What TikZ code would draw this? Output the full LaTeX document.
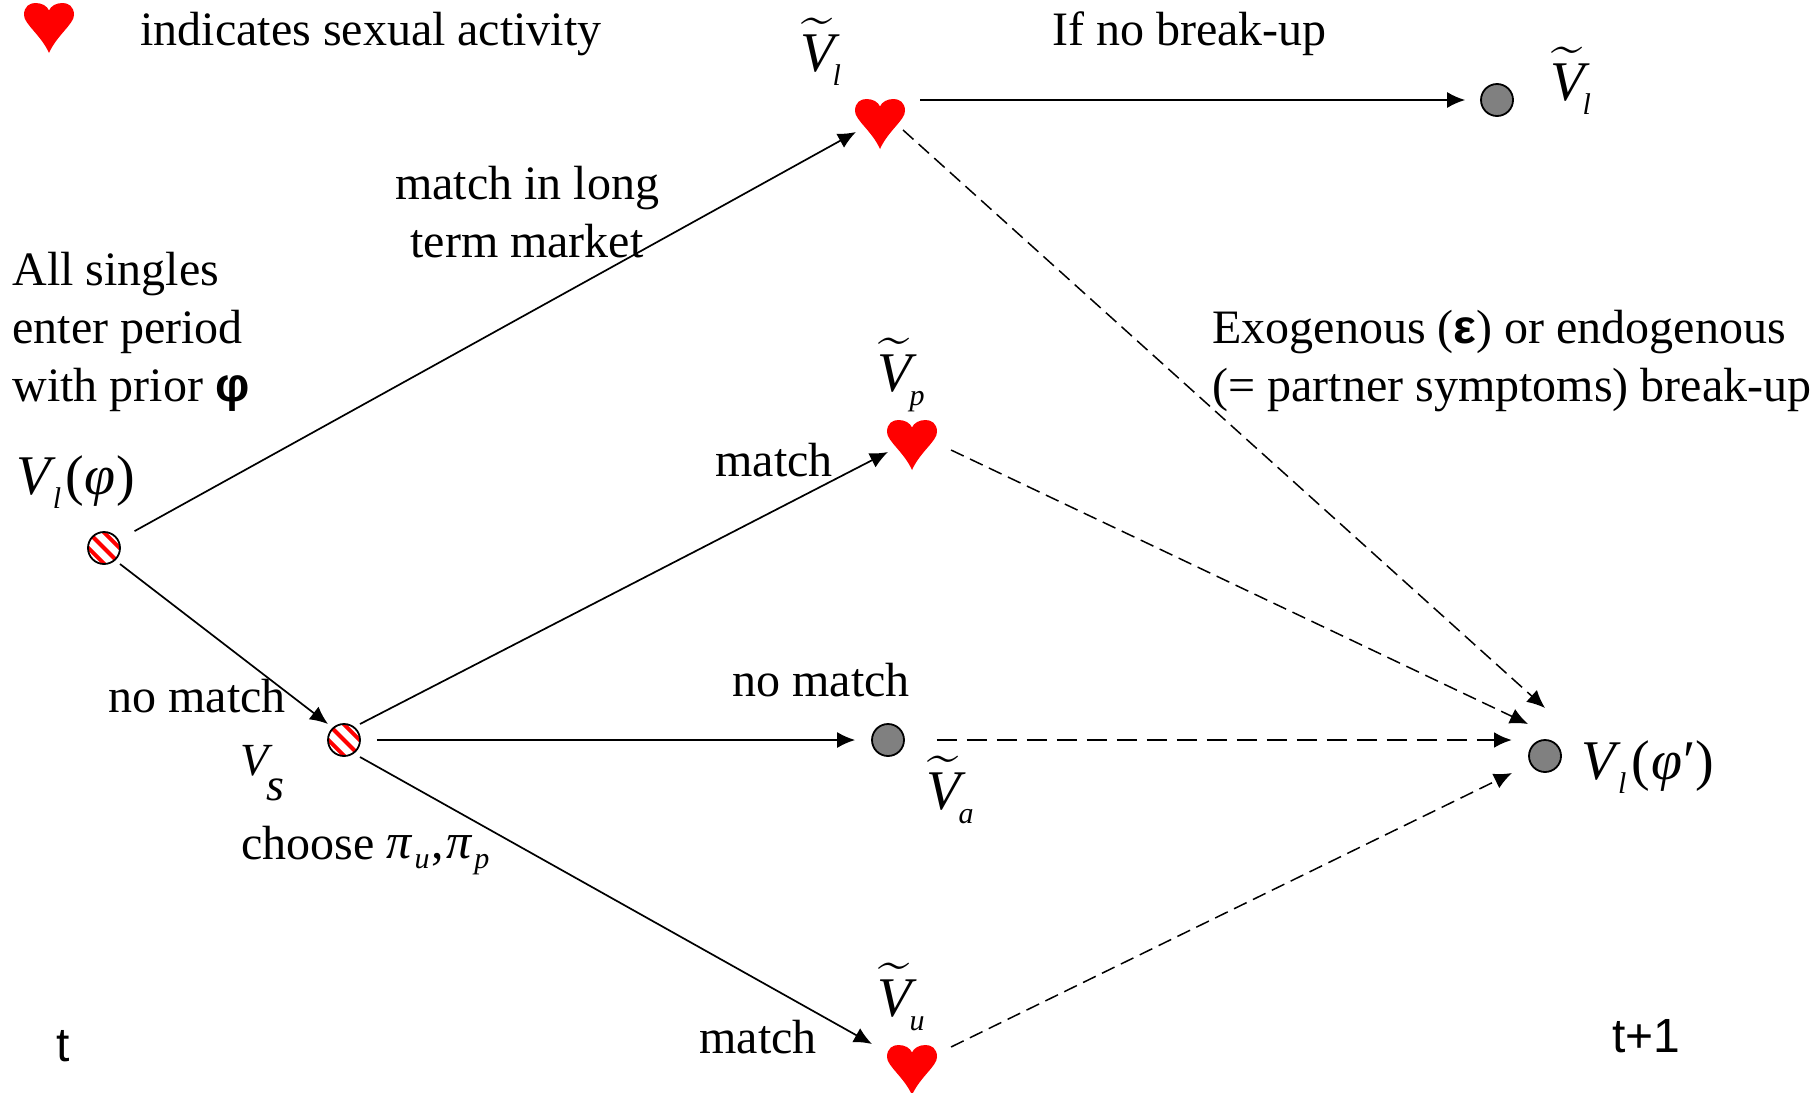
\documentclass[tikz,border=0pt]{standalone}
\usepackage{amsmath}
\usepackage{amssymb}
\usepackage{xcolor}
\usepackage{fontspec}
\setmainfont{Liberation Serif}
\newfontfamily\sansfont{Liberation Sans}
\usepackage{tikz}
\usetikzlibrary{arrows.meta}

\newcommand{\Vsym}[1]{\fontsize{28}{30}\selectfont\textit{V}\kern-1.5pt\raisebox{-7pt}{\fontsize{15}{15}\selectfont\textit{#1}}}
\newcommand{\Vtilde}[1]{\fontsize{28}{30}\selectfont$\widetilde{\textit{V}}$\kern-1pt\raisebox{-7pt}{\fontsize{15}{15}\selectfont\textit{#1}}}
\newcommand{\subpi}[1]{\textit{π}\kern1pt\raisebox{-5pt}{\fontsize{15}{15}\selectfont\textit{#1}}}

\tikzset{
  word/.style={anchor=base west, inner sep=0pt, font=\fontsize{24}{29}\selectfont},
  value/.style={anchor=base west, inner sep=0pt},
  arrowline/.style={-{Latex[length=9pt,width=8pt]}, line width=0.85pt},
  dashline/.style={arrowline, dash pattern=on 7pt off 3.5pt, line width=0.75pt},
  graydot/.style={circle, draw, line width=0.9pt, fill=gray, minimum size=16pt, inner sep=0pt},
  stripedot/.style={circle, draw, line width=0.9pt, fill=white, minimum size=16pt, inner sep=0pt,
    path picture={
      \foreach \off in {-7.8,0,7.8}
        \draw[red, line width=2pt]
          ([shift={(-9pt,\off*1pt+9pt)}]path picture bounding box.center) --
          ([shift={(9pt,\off*1pt-9pt)}]path picture bounding box.center);
    }},
  heartnode/.style={rectangle, minimum size=25pt, inner sep=0pt,
    path picture={
      \fill[red, shift={(path picture bounding box.center)}, x=1pt, y=1pt]
        (0,-12.5) .. controls (-4,-3.5) and (-12.5,2) .. (-12.5,6.5)
        .. controls (-12.5,11) and (-9.5,12.5) .. (-6.8,12.5)
        .. controls (-3.5,12.5) and (-1,11) .. (0,8.8)
        .. controls (1,11) and (3.5,12.5) .. (6.8,12.5)
        .. controls (9.5,12.5) and (12.5,11) .. (12.5,6.5)
        .. controls (12.5,2) and (4,-3.5) .. (0,-12.5) -- cycle;
    }}
}

\begin{document}
\begin{tikzpicture}[x=0.5pt, y=-0.5pt]
  \useasboundingbox (0,0) rectangle (1818,1092);

  % the decision points
  \node[stripedot] (single) at (104,548) {};
  \node[stripedot] (search) at (344,740) {};
  \node[heartnode] (heartl) at (880,124) {};
  \node[heartnode] (heartp) at (912,445) {};
  \node[heartnode] (heartu) at (912,1070) {};
  \node[heartnode] (legend) at (49,28) {};
  \node[graydot] (nomatch) at (888,740) {};
  \node[graydot] (staying) at (1497,100) {};
  \node[graydot] (nextper) at (1545,756) {};

  % solid arrows
  \draw[arrowline] (single) -- ([shift={(-12pt,-4pt)}]heartl.center) [shorten <=9pt];
  \draw[arrowline] ([shift={(8pt,-8pt)}]single.center) -- ([shift={(-8pt,8pt)}]search.center);
  \draw[arrowline] ([shift={(8pt,8pt)}]search.center) -- ([shift={(-12pt,-3.5pt)}]heartp.center);
  \draw[arrowline] (search) -- (nomatch) [shorten <=8pt, shorten >=8pt];
  \draw[arrowline] ([shift={(8pt,-8.5pt)}]search.center) -- ([shift={(-20pt,13pt)}]heartu.center);
  \draw[arrowline] (heartl.east |- staying) -- (staying) [shorten <=7.5pt, shorten >=7.5pt];

  % dashed arrows
  \draw[dashline] ([shift={(11.5pt,-3pt)}]heartl.center) -- ([yshift=24pt]nextper.center);
  \draw[dashline] ([shift={(19.5pt,-2.5pt)}]heartp.center) -- ([shift={(-8.5pt,16pt)}]nextper.center);
  \draw[dashline, line width=1.35pt, dash pattern=on 10pt off 5pt] (nomatch) -- ([shift={(-16.5pt,8pt)}]nextper.center) [shorten <=16pt];
  \draw[dashline] ([shift={(19.5pt,11.5pt)}]heartu.center) -- ([shift={(-16.5pt,-8.5pt)}]nextper.center);

  % texts
  \node[word] (legendtext) at (140,45) {indicates sexual activity};
  \node[word] (breaktext) at (1052,45) {If no break-up};
  \node[word, anchor=center, align=center] (longtext) at (527,212) {match in long\\term market};
  \node[word] (prior1) at (12,285) {All singles};
  \node[word] (prior2) at (12,343) {enter period};
  \node[word] (prior3) at (12,401) {with prior {\sansfont\bfseries φ}};
  \node[word] (exo1) at (1212,343) {Exogenous ({\sansfont\bfseries ε}) or endogenous};
  \node[word] (exo2) at (1212,401) {(= partner symptoms) break-up};
  \node[word] (matchp) at (715,476) {match};
  \node[word] (matcha) at (732,696) {no match};
  \node[word] (matchs) at (108,712) {no match};
  \node[word] (matchu) at (699,1053) {match};
  \node[word] (choose) at (241,859) {choose};
  \node[value] (pis) at (386,858) {\fontsize{25}{29}\selectfont\subpi{u}\kern1pt,\kern1pt\subpi{p}};
  \node[word, font=\sansfont\fontsize{24}{29}\selectfont] (tnow) at (56,1061) {t};
  \node[word, font=\sansfont\fontsize{24}{29}\selectfont] (tnext) at (1612,1052) {t+1};

  % values
  \node[value] (vsingle) at (16,494) {\Vsym{l}\kern2pt(\kern.3pt\textit{φ}\kern.3pt)};
  \node[value] (vsearch) at (240,775) {\fontsize{23}{26}\selectfont\textit{V}\kern-3pt\raisebox{-12.5pt}{\textit{s}}};
  \node[value] (vnext) at (1581,779) {\Vsym{l}\kern2.5pt(\kern.6pt\textit{φ}\kern.6pt′)};
  \node[value] (vl) at (800,71) {\Vtilde{l}};
  \node[value] (vstay) at (1550,100) {\Vtilde{l}};
  \node[value] (vp) at (877,391) {\Vtilde{p}};
  \node[value] (va) at (926,809) {\Vtilde{a}};
  \node[value] (vu) at (877,1016) {\Vtilde{u}};
\end{tikzpicture}
\end{document}
